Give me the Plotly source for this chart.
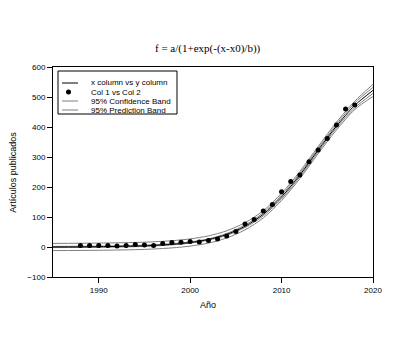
import plotly.graph_objects as go

# ---- data ----
years = list(range(1988, 2019))
articles = [5, 5, 5, 5, 3, 5, 8, 7, 5, 12, 15, 16, 18, 17, 22, 27, 37, 52, 77, 92,
            120, 142, 184, 218, 240, 284, 323, 362, 407, 460, 473]

fit_years = [1985, 1990, 1995, 1998, 2000, 2002, 2004, 2006, 2008, 2010, 2012, 2014, 2016, 2018, 2020]
fit_values = [0, 1, 4, 9, 15, 25, 42, 69, 109, 167, 240, 323, 403, 472, 522]
conf_upper = [2, 3, 6, 11, 17, 27, 45, 73, 114, 173, 246, 329, 409, 480, 532]
conf_lower = [-2, -1, 2, 7, 13, 23, 39, 65, 104, 161, 234, 317, 397, 464, 512]
pred_upper = [12, 13, 16, 21, 27, 37, 54, 81, 121, 179, 252, 335, 416, 486, 542]
pred_lower = [-12, -11, -8, -3, 3, 13, 30, 57, 97, 155, 228, 311, 390, 458, 502]

x_ticks = [1990, 2000, 2010, 2020]
y_ticks = [-100, 0, 100, 200, 300, 400, 500, 600]

title_text = "f = a/(1+exp(-(x-x0)/b))"
x_title = "Año"
y_title = "Artículos publicados"
legend_labels = ["x column vs y column", "Col 1 vs Col 2", "95% Confidence Band", "95% Prediction Band"]

GRAY = "#7f7f7f"
FONT = "Liberation Sans, Arial, sans-serif"

fig = go.Figure()
for yv, nm in [(pred_upper, legend_labels[3]), (pred_lower, legend_labels[3]),
               (conf_upper, legend_labels[2]), (conf_lower, legend_labels[2])]:
    fig.add_trace(go.Scatter(x=fit_years, y=yv, mode="lines", name=nm,
                             line=dict(color=GRAY, width=1, shape="spline", smoothing=0.8),
                             showlegend=False, hoverinfo="skip"))
fig.add_trace(go.Scatter(x=fit_years, y=fit_values, mode="lines", name=legend_labels[0],
                         line=dict(color="black", width=1, shape="spline", smoothing=0.8),
                         showlegend=False))
fig.add_trace(go.Scatter(x=years, y=articles, mode="markers", name=legend_labels[1],
                         marker=dict(color="black", size=5, symbol="circle"),
                         showlegend=False))

# ---- layout (page body has an 8px margin, so the figure is offset by 8px) ----
OFF = 8
L, R, T, B = 53 - OFF, 32, 67 - OFF, 65
W, H = 405 - OFF, 342 - OFF
PW, PH = W - L - R, H - T - B

def px(xp):
    return (xp - OFF - L) / PW

def py(yp):
    return (T + PH - (yp - OFF)) / PH

annotations = [
    dict(text=title_text, x=px(207.5), y=py(48), xref="paper", yref="paper",
         showarrow=False, xanchor="center", yanchor="middle",
         font=dict(family="Liberation Serif, Times New Roman, serif", size=11, color="black")),
    dict(text=x_title, x=px(208), y=py(305), xref="paper", yref="paper",
         showarrow=False, xanchor="center", yanchor="middle",
         font=dict(family=FONT, size=9, color="black")),
    dict(text=y_title, x=px(12.7), y=py(172), xref="paper", yref="paper",
         showarrow=False, xanchor="center", yanchor="middle", textangle=-90,
         font=dict(family=FONT, size=9, color="black")),
]

shapes = [dict(type="rect", xref="paper", yref="paper", x0=px(58), x1=px(177),
               y0=py(114), y1=py(71), line=dict(color="black", width=1), fillcolor="white",
               layer="above")]
entry_y = [83, 92, 101, 110]
for i, lab in enumerate(legend_labels):
    yy = py(entry_y[i])
    annotations.append(dict(text=lab, x=px(89), y=yy, xref="paper", yref="paper",
                            showarrow=False, xanchor="left", yanchor="middle",
                            font=dict(family=FONT, size=8, color="black")))
    if i == 1:
        shapes.append(dict(type="circle", xref="paper", yref="paper", xsizemode="pixel",
                           ysizemode="pixel", xanchor=px(68.5), yanchor=yy,
                           x0=-2.5, x1=2.5, y0=-2.5, y1=2.5,
                           fillcolor="black", line=dict(color="black", width=0), layer="above"))
    else:
        shapes.append(dict(type="line", xref="paper", yref="paper", x0=px(62), x1=px(78),
                           y0=yy, y1=yy, layer="above",
                           line=dict(color="black" if i == 0 else GRAY, width=1)))

fig.update_layout(
    width=W, height=H,
    margin=dict(l=L, r=R, t=T, b=B),
    paper_bgcolor="white", plot_bgcolor="white",
    showlegend=False,
    annotations=annotations,
    shapes=shapes,
    font=dict(family=FONT, size=8, color="black"),
)
fig.update_xaxes(range=[1985, 2020], tickvals=x_ticks, ticks="outside", ticklen=5,
                 tickcolor="black", showline=True, linecolor="black", linewidth=1,
                 mirror=True, showgrid=False, zeroline=False,
                 tickfont=dict(family=FONT, size=8, color="black"))
fig.update_yaxes(range=[-100, 600], tickvals=y_ticks, ticks="outside", ticklen=5,
                 tickcolor="black", showline=True, linecolor="black", linewidth=1,
                 mirror=True, showgrid=False, zeroline=False,
                 tickfont=dict(family=FONT, size=8, color="black"))

fig.write_html("out.html")
